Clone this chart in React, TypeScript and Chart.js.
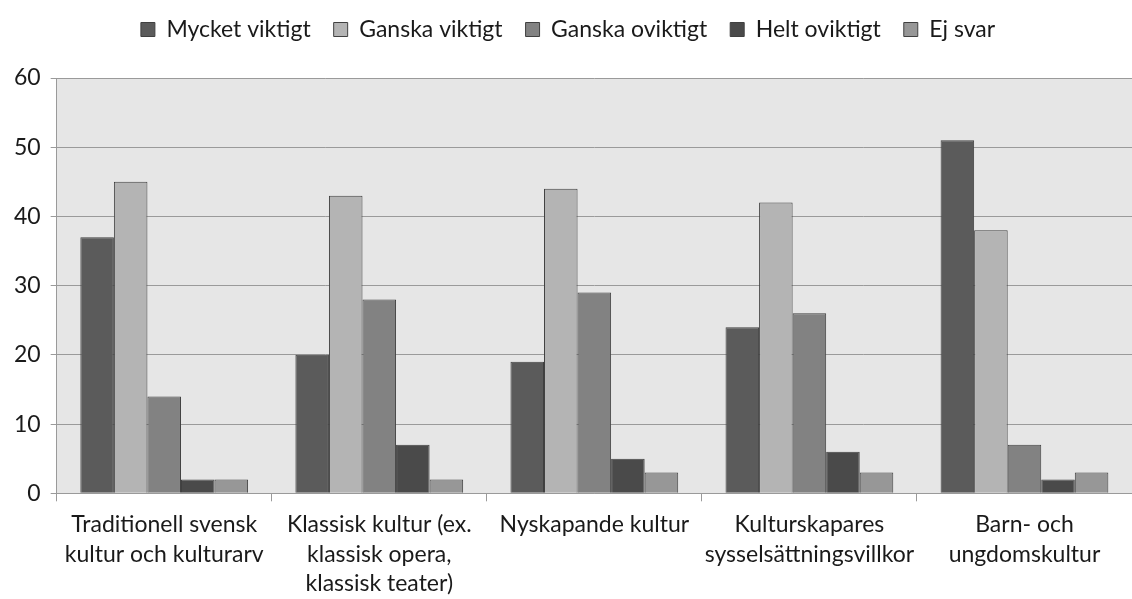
import React, { useEffect, useRef } from "react";
import { Chart, registerables } from "chart.js";

Chart.register(...registerables);

const categories: string[][] = [
  ["Traditionell svensk", "kultur och kulturarv"],
  ["Klassisk kultur (ex.", "klassisk opera,", "klassisk teater)"],
  ["Nyskapande kultur"],
  ["Kulturskapares", "sysselsättningsvillkor"],
  ["Barn- och", "ungdomskultur"],
];

const seriesNames = ["Mycket viktigt", "Ganska viktigt", "Ganska oviktigt", "Helt oviktigt", "Ej svar"];
const mycketViktigt = [37, 20, 19, 24, 51];
const ganskaViktigt = [45, 43, 44, 42, 38];
const ganskaOviktigt = [14, 28, 29, 26, 7];
const heltOviktigt = [2, 7, 5, 6, 2];
const ejSvar = [2, 2, 3, 3, 3];
const seriesColors = ["#5b5b5b", "#b4b4b4", "#828282", "#4a4a4a", "#979797"];

const LEGEND_HEIGHT = 83;

const bgPlugin = {
  id: "plotBg",
  beforeDraw(chart: any) {
    const { ctx, chartArea } = chart;
    if (!chartArea) return;
    ctx.save();
    ctx.fillStyle = "#e6e6e6";
    ctx.fillRect(chartArea.left, chartArea.top, chartArea.right - chartArea.left, chartArea.bottom - chartArea.top);
    ctx.restore();
  },
};

const legendSpace = {
  id: "legendSpace",
  beforeInit(chart: any) {
    const legend = chart.legend;
    if (!legend) return;
    const origFit = legend.fit;
    legend.fit = function () {
      origFit.bind(legend)();
      legend.height = LEGEND_HEIGHT;
    };
  },
};

export default function App() {
  const ref = useRef<HTMLCanvasElement>(null);
  useEffect(() => {
    document.body.style.margin = "0";
    const values = [mycketViktigt, ganskaViktigt, ganskaOviktigt, heltOviktigt, ejSvar];
    const chart = new Chart(ref.current!, {
      type: "bar",
      data: {
        labels: categories as any,
        datasets: seriesNames.map((name, i) => ({
          label: name,
          data: values[i],
          backgroundColor: seriesColors[i],
          borderColor: "#404040",
          borderWidth: 1,
          categoryPercentage: 0.78,
          barPercentage: 1,
        })),
      },
      options: {
        animation: false,
        responsive: false,
        maintainAspectRatio: false,
        layout: { padding: { top: -5, right: 0, left: 4, bottom: -8 } },
        plugins: {
          legend: {
            position: "top",
            labels: {
              boxWidth: 14,
              boxHeight: 14,
              padding: 23,
              color: "#1a1a1a",
              font: { family: "Lato", size: 23 },
            },
          },
          tooltip: { enabled: false },
        },
        scales: {
          x: {
            grid: {
              offset: true,
              drawOnChartArea: false,
              drawTicks: true,
              tickLength: 8,
              color: "#9a9a9a",
            },
            border: { color: "#9a9a9a", width: 1 },
            ticks: {
              color: "#1a1a1a",
              font: { family: "Lato", size: 23, lineHeight: 1.3 },
              maxRotation: 0,
              autoSkip: false,
              padding: 8,
            },
          },
          y: {
            min: 0,
            max: 60,
            ticks: {
              stepSize: 10,
              color: "#1a1a1a",
              font: { family: "Lato", size: 23 },
              padding: 10,
            },
            grid: { color: "#9a9a9a", tickLength: 6 },
            border: { color: "#9a9a9a", width: 1 },
          },
        },
      },
      plugins: [bgPlugin, legendSpace],
    });
    return () => chart.destroy();
  }, []);
  return (
    <div style={{ width: 1132, height: 599, background: "#fff" }}>
      <canvas ref={ref} width={1132} height={599} style={{ display: "block" }} />
    </div>
  );
}
